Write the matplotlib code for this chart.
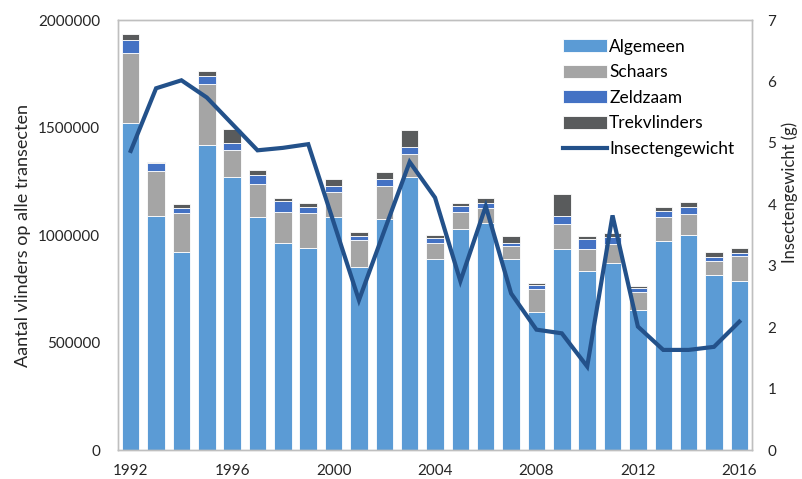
import numpy as np
import matplotlib
matplotlib.use('Agg')
import matplotlib.pyplot as plt
from matplotlib.ticker import FuncFormatter

plt.rcParams['font.family'] = ['Lato', 'DejaVu Sans']

# data
years = list(range(1992, 2017))
algemeen = [1522000, 1090000, 919000, 1419000, 1270000, 1082000, 964000, 938000, 1082000,
            852000, 1076000, 1271000, 889000, 1030000, 1054000, 887000, 640000, 933000,
            834000, 871000, 651000, 971000, 999000, 812000, 785000]
schaars = [323000, 209000, 182000, 283000, 124000, 155000, 144000, 166000, 117000,
           123000, 153000, 104000, 75000, 78000, 72000, 62000, 109000, 118000,
           101000, 89000, 85000, 114000, 100000, 66000, 117000]
zeldzaam = [62000, 34000, 23000, 39000, 34000, 42000, 50000, 25000, 30000,
            22000, 31000, 33000, 24000, 27000, 21000, 15000, 17000, 37000,
            45000, 32000, 16000, 28000, 31000, 21000, 15000]
trekvlinders = [27000, 7000, 19000, 22000, 65000, 23000, 16000, 18000, 31000,
                16000, 33000, 83000, 14000, 12000, 27000, 31000, 9000, 101000,
                15000, 16000, 12000, 16000, 22000, 20000, 21000]
insectengewicht = [4.87, 5.89, 6.02, 5.74, 5.31, 4.88, 4.92, 4.98, 3.71, 2.44, 3.57, 4.69, 4.11,
                   2.75, 3.97, 2.55, 1.96, 1.90, 1.36, 3.82, 2.01, 1.63, 1.63, 1.68, 2.09]

series = [('Algemeen', algemeen, '#5B9BD5'),
          ('Schaars', schaars, '#A5A5A5'),
          ('Zeldzaam', zeldzaam, '#4472C4'),
          ('Trekvlinders', trekvlinders, '#595B5C')]

x = np.arange(len(years))

fig = plt.figure(figsize=(8.03, 4.79), dpi=100)
ax = fig.add_axes([0.147, 0.0605, 0.7895, 0.8975])
ax2 = ax.twinx()

handles = []
bottom = np.zeros(len(years))
for name, vals, col in series:
    b = ax.bar(x, vals, width=0.69, bottom=bottom, color=col, edgecolor='white',
               linewidth=0.6, label=name)
    handles.append(b)
    bottom += np.array(vals)

ln, = ax2.plot(x, insectengewicht, color='#23518A', lw=3, label='Insectengewicht',
               solid_joinstyle='miter')
handles.append(ln)

ax.set_xlim(-0.5, len(years) - 0.5)
ax.set_ylim(0, 2000000)
ax2.set_ylim(0, 7)
ax.set_yticks(range(0, 2000001, 500000))
ax.yaxis.set_major_formatter(FuncFormatter(lambda v, p: '%d' % v))
ax2.set_yticks(range(0, 8))
ax.set_xticks(x[::4])
ax.set_xticklabels([str(y) for y in years[::4]])

for a in (ax, ax2):
    a.tick_params(length=0, labelsize=11, colors='#262626')
    for s in a.spines.values():
        s.set_color('#BFBFBF')
        s.set_linewidth(1)
ax.tick_params(axis='y', pad=13)
ax.tick_params(axis='x', pad=10)
ax2.tick_params(axis='y', pad=11)

ax.set_ylabel('Aantal vlinders op alle transecten', fontsize=13, color='#262626', labelpad=5)
ax2.set_ylabel('Insectengewicht (g)', fontsize=12, color='#262626')
ax2.yaxis.set_label_coords(1.047, 0.6)

ax2.legend(handles=handles, loc='upper left', bbox_to_anchor=(0.683, 0.985), frameon=False,
           fontsize=12.5, handlelength=2.5, handleheight=0.75, handletextpad=0.15,
           labelspacing=0.55, borderaxespad=0.3)

fig.savefig('out.png', dpi=100)
